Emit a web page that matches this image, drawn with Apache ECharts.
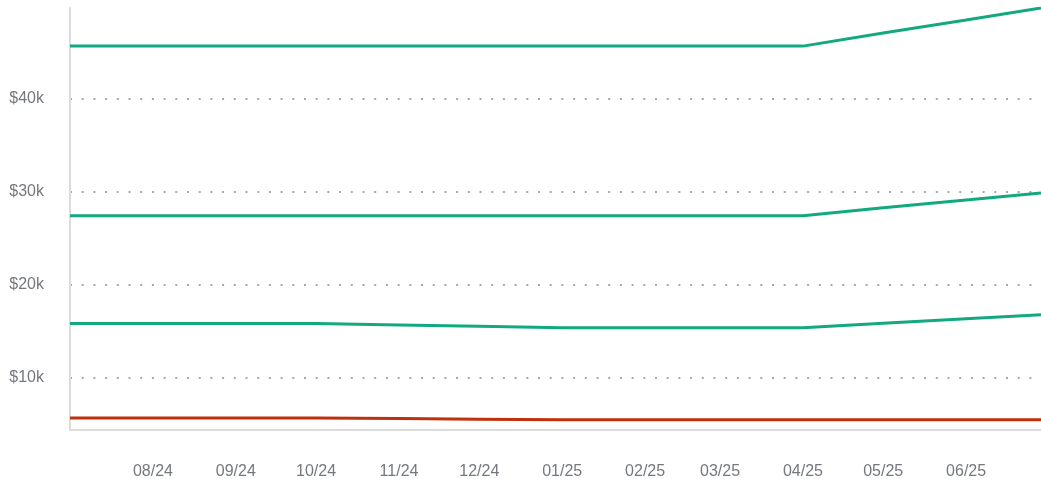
<!DOCTYPE html>
<html lang="en">
<head>
    <meta charset="UTF-8">
    <title>Chart</title>
    <script src="https://cdn.jsdelivr.net/npm/echarts@6/dist/echarts.min.js"></script>
    <style>
        html, body { margin: 0; padding: 0; background: #fff; }
        #chart { width: 1041px; height: 479px; }
    </style>
</head>
<body>
    <div id="chart"></div>
<script>
    // monthly points, last one is the end of the range
    var dates = ['2024-07-01', '2024-08-01', '2024-09-01', '2024-10-01', '2024-11-01', '2024-12-01',
                 '2025-01-01', '2025-02-01', '2025-03-01', '2025-04-01', '2025-05-01', '2025-06-01', '2025-06-29'];
    var lineA = [45700, 45700, 45700, 45700, 45700, 45700, 45700, 45700, 45700, 45700, 47100, 48500, 49800];
    var lineB = [27450, 27450, 27450, 27450, 27450, 27450, 27450, 27450, 27450, 27450, 28300, 29150, 29900];
    var lineC = [15850, 15850, 15850, 15850, 15700, 15550, 15400, 15400, 15400, 15400, 15880, 16370, 16800];
    var lineD = [5700, 5700, 5700, 5700, 5630, 5560, 5500, 5500, 5500, 5500, 5500, 5500, 5500];
    var yTicks = [10000, 20000, 30000, 40000];

    function toTime(s) {
        var p = s.split('-');
        return new Date(+p[0], +p[1] - 1, +p[2]).getTime();
    }
    function pairs(vals) {
        return dates.map(function (d, i) { return [toTime(d), vals[i]]; });
    }
    var xMin = toTime(dates[0]);
    var xMax = toTime(dates[dates.length - 1]);
    var DAY = 86400000;

    var green = '#12a981';
    var red = '#bf300c';

    var option = {
        animation: false,
        grid: { left: 70, right: 0, top: 8, bottom: 49, outerBoundsMode: 'none' },
        xAxis: {
            type: 'time',
            min: xMin,
            max: xMax,
            splitNumber: 12,
            minInterval: 28 * DAY,
            maxInterval: 31 * DAY,
            axisLine: { show: true, lineStyle: { color: '#dcdcdc', width: 2 } },
            axisTick: { show: false },
            splitLine: { show: false },
            axisLabel: {
                margin: 34,
                color: '#75787d',
                fontSize: 16,
                fontFamily: 'Liberation Sans, Arial, sans-serif',
                hideOverlap: false,
                formatter: function (v) {
                    var d = new Date(v);
                    if (d.getDate() !== 1 || v <= xMin) return '';
                    var m = d.getMonth() + 1;
                    return (m < 10 ? '0' + m : m) + '/' + String(d.getFullYear()).slice(2);
                }
            }
        },
        yAxis: {
            type: 'value',
            min: 4400,
            max: 49800,
            axisLine: { show: true, lineStyle: { color: '#dcdcdc', width: 2 } },
            axisTick: { show: false },
            axisLabel: {
                margin: 26,
                padding: [4, 0, 0, 0],
                color: '#75787d',
                fontSize: 16,
                fontFamily: 'Liberation Sans, Arial, sans-serif',
                showMinLabel: false,
                showMaxLabel: false,
                formatter: function (v) {
                    return yTicks.indexOf(v) >= 0 ? '$' + (v / 1000) + 'k' : '';
                }
            },
            splitLine: {
                show: true,
                showMinLine: false,
                showMaxLine: false,
                lineStyle: { color: '#a8a8a8', width: 2, type: [2, 9.7] }
            }
        },
        series: [
            { type: 'line', data: pairs(lineA), showSymbol: false, lineStyle: { color: green, width: 3 } },
            { type: 'line', data: pairs(lineB), showSymbol: false, lineStyle: { color: green, width: 3 } },
            { type: 'line', data: pairs(lineC), showSymbol: false, lineStyle: { color: green, width: 3 } },
            { type: 'line', data: pairs(lineD), showSymbol: false, lineStyle: { color: red, width: 3 } }
        ]
    };

    var myChart = echarts.init(document.getElementById('chart'));
    myChart.setOption(option);
</script>
</body>
</html>
